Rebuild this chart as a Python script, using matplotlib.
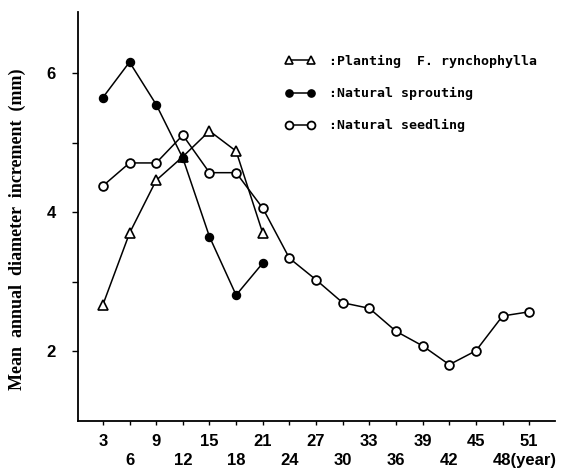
import matplotlib
matplotlib.use("Agg")
import matplotlib.pyplot as plt
import matplotlib.transforms as mtrans

# ---- data ----
years_short = [3, 6, 9, 12, 15, 18, 21]
planting = [2.67, 3.70, 4.46, 4.80, 5.17, 4.88, 3.70]
sprouting = [5.65, 6.16, 5.55, 4.78, 3.65, 2.81, 3.27]
years_long = [3, 6, 9, 12, 15, 18, 21, 24, 27, 30, 33, 36, 39, 42, 45, 48, 51]
seedling = [4.38, 4.71, 4.71, 5.11, 4.57, 4.57, 4.06, 3.34, 3.03, 2.70, 2.62,
            2.29, 2.08, 1.81, 2.01, 2.51, 2.57]
upper_ticks = [3, 9, 15, 21, 27, 33, 39, 45, 51]
lower_ticks = [6, 12, 18, 24, 30, 36, 42, 48]
lower_labels = ["6", "12", "18", "24", "30", "36", "42", "48(year)"]
y_major = [2, 4, 6]
y_minor = [3, 5]
legend_labels = [":Planting  F. rynchophylla", ":Natural sprouting", ":Natural seedling"]
ylabel = "Mean  annual  diameter  increment  (mm)"

fig = plt.figure(figsize=(5.7, 4.68), dpi=100)
ax = fig.add_axes([78/570, 47/468, (555-78)/570, (421-12)/468])

lw = 1.1
ms = 6.3
l1, = ax.plot(years_short, planting, color="black", lw=lw, marker="^", ms=ms+0.5,
              mfc="white", mec="black", mew=1.2, zorder=3)
l3, = ax.plot(years_long, seedling, color="black", lw=lw, marker="o", ms=ms,
              mfc="white", mec="black", mew=1.3, zorder=3)
l2, = ax.plot(years_short, sprouting, color="black", lw=lw, marker="o", ms=ms-0.5,
              mfc="black", mec="black", zorder=4)

ax.set_xlim(0.2, 53.9)
ax.set_ylim(1, 6.88)

for s in ["top", "right"]:
    ax.spines[s].set_visible(False)
for s in ["left", "bottom"]:
    ax.spines[s].set_linewidth(1.3)

ax.set_xticks(upper_ticks)
ax.set_xticklabels([str(v) for v in upper_ticks])
ax.set_xticks(lower_ticks, minor=True)
ax.set_xticklabels(lower_labels, minor=True)
ax.tick_params(axis="x", which="major", length=3, width=1, pad=6, labelsize=12, direction="out")
ax.tick_params(axis="x", which="minor", length=3, width=1, pad=20, labelsize=12, direction="out")

ax.set_yticks(y_major)
ax.set_yticklabels([str(v) for v in y_major])
ax.set_yticks(y_minor, minor=True)
ax.tick_params(axis="y", which="both", length=4, width=1, pad=12, labelsize=12, direction="out")

for lab in ax.get_xticklabels(which="both") + ax.get_yticklabels():
    lab.set_fontweight("bold")
    lab.set_fontfamily("Liberation Sans")

# last lower label: "48(year)" left aligned near tick
t = ax.xaxis.get_minor_ticks()[-1]
t.label1.set_horizontalalignment("left")
t.label1.set_transform(t.label1.get_transform() +
                       mtrans.ScaledTranslation(-10/100, 0, fig.dpi_scale_trans))

ax.set_ylabel(ylabel, fontsize=13, fontweight="bold", family="Liberation Serif")
ax.yaxis.set_label_coords(-0.11, 0.47)

leg = ax.legend([l1, l2, l3], legend_labels, loc="upper left", numpoints=2,
                bbox_to_anchor=(0.435, 0.895), frameon=False, borderpad=0,
                borderaxespad=0, handlelength=2.2, handletextpad=1.1,
                labelspacing=1.45, markerscale=0.9,
                prop={"family": "DejaVu Sans Mono", "weight": "bold", "size": 9.5})

fig.savefig("out.png", dpi=100)
